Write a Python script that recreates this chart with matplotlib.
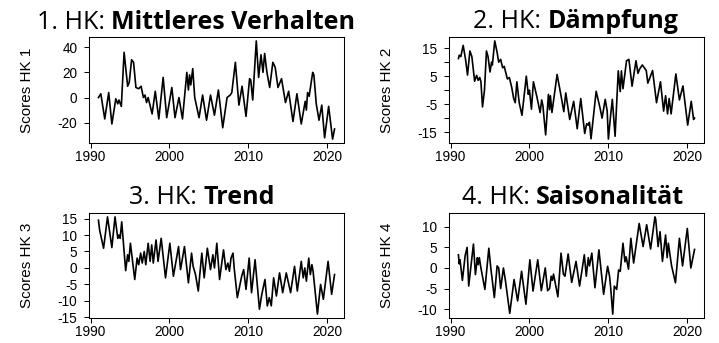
import numpy as np
import matplotlib.pyplot as plt

# Scores der vier Hauptkomponenten (Dezimaljahr, Score)
hk1_jahr = [1991.0, 1991.1, 1991.3, 1991.8, 1992.3, 1992.7, 1993.2, 1993.45, 1993.6, 1993.9,
            1994.25, 1994.7, 1994.9, 1995.2, 1995.45, 1995.75, 1996.1, 1996.4, 1996.7, 1996.9,
            1997.1, 1997.3, 1997.8, 1998.2, 1998.65, 1999.2, 1999.65, 2000.3, 2000.7, 2001.2,
            2001.65, 2002.2, 2002.4, 2002.55, 2002.7, 2002.95, 2003.2, 2003.75, 2004.2, 2004.7,
            2005.2, 2005.7, 2006.2, 2006.75, 2007.3, 2007.7, 2007.9, 2008.35, 2008.8, 2009.2,
            2009.7, 2010.15, 2010.3, 2010.55, 2011.0, 2011.3, 2011.6, 2011.85, 2012.06, 2012.35,
            2012.7, 2013.1, 2013.4, 2013.75, 2014.2, 2014.7, 2015.1, 2015.65, 2016.15, 2016.7,
            2017.2, 2017.35, 2017.5, 2017.7, 2018.15, 2018.3, 2018.6, 2018.95, 2019.3, 2019.66,
            2020.17, 2020.67, 2020.92]
hk1_wert = [0, 1, 3, -17, 4, -21, -1, -5, -2, -7,
            36, 9, 12, 30, 28, 8, 7, 9, 0, 2,
            -4, 0, -13, 5, -17, 16, -16, 8, -16, 0,
            -17, 20, 6, 18, 10, 23, 0, -16, 2, -18,
            2, -14, 6, -24, 0, 2, 4, 28, -6, 9,
            -15, 15, 14, -2, 45, 16, 34, 20, 35, 20,
            8, 28, 24, 8, 15, -4, 5, -19, 3, -21,
            -3, -10, 4, 1, 20, 18, -5, -18, -6, -32,
            -7, -33, -25]

hk2_jahr = [1991.0, 1991.1, 1991.3, 1991.6, 1991.9, 1992.15, 1992.45, 1992.7, 1993.05, 1993.3,
            1993.5, 1993.7, 1993.85, 1994.05, 1994.3, 1994.55, 1994.75, 1995.0, 1995.2, 1995.3,
            1995.6, 1995.9, 1996.1, 1996.35, 1996.6, 1996.8, 1997.2, 1997.45, 1997.75, 1998.0,
            1998.2, 1998.4, 1998.7, 1999.05, 1999.6, 1999.85, 2000.0, 2000.25, 2000.5, 2000.95,
            2001.35, 2001.55, 2001.7, 2002.05, 2002.4, 2002.55, 2002.65, 2002.85, 2003.5, 2004.0,
            2004.35, 2004.6, 2005.1, 2005.6, 2006.05, 2006.5, 2007.0, 2007.25, 2007.45, 2007.6,
            2007.8, 2008.45, 2008.95, 2009.2, 2009.6, 2009.85, 2010.0, 2010.25, 2010.5, 2010.85,
            2011.25, 2011.5, 2011.65, 2011.85, 2012.3, 2012.6, 2013.0, 2013.5, 2013.75, 2013.95,
            2014.3, 2014.8, 2015.0, 2015.6, 2016.1, 2016.6, 2017.0, 2017.25, 2017.5, 2017.7,
            2017.95, 2018.55, 2019.0, 2019.45, 2020.05, 2020.5, 2020.8, 2020.92]
hk2_wert = [11.3, 12.5, 12, 16, 11, 5.4, 14, 12, 3.2, 5.3,
            3.5, 4.5, 3, -6, 0, 14, 12, 6.5, 10, 9,
            17.6, 13.5, 10, 11, 8, 8.5, 4, 4.5, 1, -3,
            -4.5, 3, -4.5, -9, 5, -1.5, 0, -6.8, 3, -2.5,
            -8, -3.5, -5.5, -16, -1.5, -7, -2, -8, 5.6, -2,
            -7.7, -1, -10.5, -4, -13.8, -3, -15.5, -12, -12.5, -11.5,
            -17.4, -0.4, -6.5, -10, -3.3, -7.5, -17.5, -10, -3.3, -16.5,
            6.9, -0.5, 6.9, 0.5, 10.5, 11, 1.4, 10.5, 6, 7.5,
            9, 7, 2.5, 7, -4.5, 3, -7.5, -2, -8.5, -3,
            -8.5, 5.8, -3.5, 1.5, -12.5, -4, -10.5, -10]

hk3_jahr = [1991.0, 1991.15, 1991.65, 1992.15, 1992.7, 1993.1, 1993.45, 1993.6, 1993.75, 1993.95,
            1994.15, 1994.45, 1994.7, 1994.85, 1995.05, 1995.6, 1995.9, 1996.1, 1996.35, 1996.55,
            1996.8, 1997.0, 1997.3, 1997.55, 1997.75, 1997.95, 1998.3, 1998.55, 1998.95, 1999.5,
            2000.05, 2000.5, 2001.15, 2001.4, 2001.9, 2002.4, 2002.8, 2003.0, 2003.3, 2003.65,
            2004.1, 2004.4, 2004.8, 2005.2, 2005.5, 2005.7, 2006.0, 2006.35, 2006.85, 2007.15,
            2007.4, 2007.6, 2007.8, 2008.05, 2008.2, 2008.6, 2009.15, 2009.4, 2009.7, 2010.1,
            2010.4, 2010.85, 2011.4, 2011.7, 2012.1, 2012.4, 2012.65, 2012.9, 2013.2, 2013.55,
            2013.95, 2014.35, 2014.8, 2015.35, 2015.85, 2016.2, 2016.7, 2016.95, 2017.15, 2017.35,
            2017.65, 2017.85, 2018.05, 2018.2, 2018.75, 2019.15, 2019.5, 2020.1, 2020.55, 2020.92]
hk3_wert = [14.5, 11.5, 6, 15.5, 6.2, 15.5, 9, 10, 9, 14,
            8, -0.8, 4, 2, 7.5, -3.5, 3, 1, 4.5, 1.5,
            5, 1, 7.5, 2, 7, 1.5, 8.5, 2, 9, -3,
            7.5, -2.5, 6.5, -0.5, 6.5, -4.5, 4.5, 0.5, -2, -7,
            4.5, -3, 6, -0.5, 4, 0, 7.5, -3.5, 5.5, -0.5,
            1.5, -1, 3, 4.5, 0, -9, -2.5, -0.5, -6.5, 3,
            -7.5, 2.5, -12.5, -8, -3.5, -11.5, -9, -11.5, -3, -8.5,
            -1.5, -7.5, -1.5, -7.5, 0.5, -7, 2, -3, 0, -4,
            3, -2, 1, -1, -14, -5, -9.5, 2, -8, -2]

hk4_jahr = [1991.0, 1991.1, 1991.2, 1991.5, 1991.85, 1992.1, 1992.3, 1992.9, 1993.15, 1993.4,
            1993.5, 1993.65, 1993.8, 1994.35, 1994.85, 1995.1, 1995.55, 1995.9, 1996.1, 1996.35,
            1996.7, 1996.95, 1997.5, 1998.05, 1998.5, 1999.0, 1999.55, 2000.05, 2000.45, 2001.05,
            2001.5, 2002.0, 2002.3, 2002.55, 2002.75, 2002.9, 2003.05, 2003.2, 2003.6, 2004.0,
            2004.3, 2004.5, 2004.9, 2005.35, 2005.9, 2006.35, 2006.95, 2007.2, 2007.45, 2007.6,
            2007.9, 2008.3, 2008.8, 2009.4, 2009.9, 2010.15, 2010.3, 2010.55, 2010.75, 2011.05,
            2011.3, 2011.5, 2011.85, 2012.1, 2012.25, 2012.55, 2012.85, 2013.2, 2013.9, 2014.4,
            2014.85, 2015.35, 2015.9, 2016.0, 2016.3, 2016.55, 2016.85, 2017.25, 2017.45, 2017.6,
            2018.0, 2018.5, 2019.0, 2019.4, 2020.0, 2020.45, 2020.92]
hk4_wert = [3.2, 1, 2, -3, 3, 5, -4.4, 5.8, -1.6, 2.5,
            0.8, 2.5, 0.5, -5.2, 4.8, 0, -7.2, 0.5, 0, -5,
            0, -3, -11, -2.8, -8, -0.8, -8.8, 2, -5.6, 2,
            -5.5, 0, -5.5, -5, -2, -3, -1.5, -3, -7, 3.6,
            -1.5, -2, 3.4, -3.5, 1.6, -4.4, 3.2, -2, 2.5, 0.5,
            3.6, -4.8, 4.4, -6.4, 0.4, -2, -5, -11.2, -4.4, -5.2,
            -0.5, -0.8, 6, 1.5, 2.7, -0.3, 7.2, 1.2, 10.8, 5.2,
            10.5, 4.6, 12.4, 11.8, 5.2, 8.8, 1.6, 8, 2.5, 6,
            0.6, -3.6, 7.2, 0.5, 9.6, 0, 4.5]

titel_nr = ["1. HK: ", "2. HK: ", "3. HK: ", "4. HK: "]
titel_fett = ["Mittleres Verhalten", "Dämpfung", "Trend", "Saisonalität"]
y_labels = ["Scores HK 1", "Scores HK 2", "Scores HK 3", "Scores HK 4"]
x_ticks = [1990, 2000, 2010, 2020]
y_ticks = [[-20, 0, 20, 40],
           [-15, -10, -5, 0, 5, 10, 15],
           [-15, -10, -5, 0, 5, 10, 15],
           [-10, -5, 0, 5, 10]]
y_tick_labels = [["-20", "0", "20", "40"],
                 ["-15", "", "-5", "", "5", "", "15"],
                 ["-15", "-10", "-5", "0", "5", "10", "15"],
                 ["-10", "-5", "0", "5", "10"]]

reihen = [(hk1_jahr, hk1_wert), (hk2_jahr, hk2_wert),
          (hk3_jahr, hk3_wert), (hk4_jahr, hk4_wert)]

plt.rcParams["font.family"] = "Liberation Sans"

W, H = 719, 343
fig = plt.figure(figsize=(W / 100, H / 100), dpi=100)

# Achsenpositionen in Pixeln: links, oben, Breite, Hoehe
boxen = [(89, 37, 255, 106), (449, 37, 255, 106),
         (89, 213, 255, 105), (449, 213, 255, 105)]
# Titelmitte und Grundlinie in Pixeln
titel_pos = [(196, 29), (576, 28), (202, 204), (573, 204)]

for i, (l, t, w, h) in enumerate(boxen):
    ax = fig.add_axes([l / W, 1 - (t + h) / H, w / W, h / H])
    jahr, wert = reihen[i]
    ax.plot(jahr, wert, color="black", linewidth=1.2)
    ax.margins(x=0.04, y=0.04)
    ax.set_xticks(x_ticks)
    ax.set_yticks(y_ticks[i])
    ax.set_yticklabels(y_tick_labels[i])
    ax.tick_params(direction="out", length=3.8, width=0.75, labelsize=9.8, colors="black")
    ax.tick_params(axis="x", pad=1.0)
    ax.tick_params(axis="y", pad=4.5)
    for s in ax.spines.values():
        s.set_linewidth(0.75)
    ax.set_ylabel(y_labels[i], fontsize=11)
    ax.yaxis.set_label_coords(-0.215, 0.5)

# Titel: normaler Teil + fetter Teil
renderer = fig.canvas.get_renderer()
for i, (cx, by) in enumerate(titel_pos):
    t1 = fig.text(0, 1 - by / H, titel_nr[i], family="Open Sans", fontsize=18, va="baseline")
    t2 = fig.text(0, 1 - by / H, titel_fett[i], family="Open Sans", fontsize=18,
                  fontweight="bold", va="baseline")
    w1 = t1.get_window_extent(renderer).width
    w2 = t2.get_window_extent(renderer).width
    x0 = cx - (w1 + w2) / 2
    t1.set_x(x0 / W)
    t2.set_x((x0 + w1) / W)

fig.savefig("out.png", dpi=100)
